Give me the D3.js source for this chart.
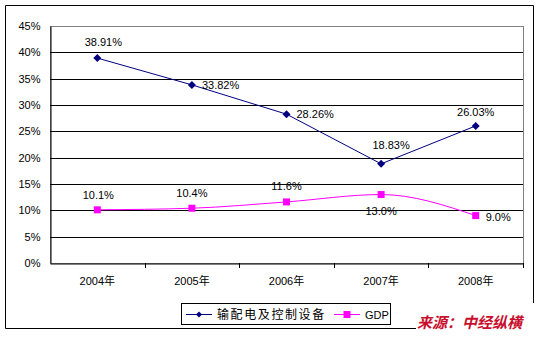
<!DOCTYPE html>
<html><head><meta charset="utf-8">
<script src="https://cdn.jsdelivr.net/npm/d3@7/dist/d3.min.js"></script>
<style>body{margin:0;background:#fff}svg{display:block}</style>
</head><body><svg id="c" width="541" height="337"></svg>
<script>
const categories = ["2004年","2005年","2006年","2007年","2008年"];
const equipValues = [38.91, 33.82, 28.26, 18.83, 26.03];
const equipLabels = ["38.91%","33.82%","28.26%","18.83%","26.03%"];
const gdpValues = [10.1, 10.4, 11.6, 13.0, 9.0];
const gdpLabels = ["10.1%","10.4%","11.6%","13.0%","9.0%"];
const yTicks = [0,5,10,15,20,25,30,35,40,45];
const seriesNames = ["输配电及控制设备","GDP"];
const sourceText = "来源：中经纵横";

const svg = d3.select("#c");
const font = "SimSun, 'Liberation Sans', 'Noto Sans CJK SC', sans-serif";
const L=50, R=523, T=26, B=263;
const x = d3.scaleBand().domain(categories).range([L,R]);
const y = d3.scaleLinear().domain([0,45]).range([B,T]);
const cx = d => x(d)+x.bandwidth()/2;

// outer frame
svg.append("path").attr("d","M533.5,303 V5.5 H5.5 V328.5 H416")
  .attr("fill","none").attr("stroke","#000").attr("stroke-width",1);

// plot border (gray top/right)
svg.append("rect").attr("x",L+0.5).attr("y",T+0.5).attr("width",R-L).attr("height",B-T)
  .attr("fill","none").attr("stroke","#808080");

// gridlines
svg.append("g").selectAll("line").data(yTicks.filter(t=>t>0 && t<45)).join("line")
  .attr("x1",L).attr("x2",R).attr("y1",d=>Math.round(y(d))+0.5).attr("y2",d=>Math.round(y(d))+0.5)
  .attr("stroke","#000");

// y axis
const ya = svg.append("g").attr("transform",`translate(${L+0.5},0)`)
  .call(d3.axisLeft(y).tickValues(yTicks).tickFormat(d=>d+"%").tickSize(0).tickPadding(10));
ya.select(".domain").attr("stroke","#000");
ya.selectAll("text").attr("font-family",font).attr("font-size",11).attr("fill","#000");

// x axis
const xa = svg.append("g").attr("transform",`translate(0,${B+0.5})`)
  .call(d3.axisBottom(x).tickSize(0).tickPadding(14));
xa.select(".domain").attr("stroke","#000");
xa.selectAll("text").attr("font-family",font).attr("font-size",11).attr("fill","#000");
// category separator ticks
svg.append("g").selectAll("line").data(categories).join("line")
  .attr("x1",d=>Math.round(x(d)+x.bandwidth())+0.5).attr("x2",d=>Math.round(x(d)+x.bandwidth())+0.5)
  .attr("y1",B).attr("y2",B+5).attr("stroke","#000");

const navy="#000080", mag="#FF00FF";

// equipment line
svg.append("path").datum(equipValues)
  .attr("d",d3.line().x((d,i)=>cx(categories[i])).y(d=>y(d)))
  .attr("fill","none").attr("stroke",navy).attr("stroke-width",1);
const sqDiamond = {draw(ctx,size){const r=Math.sqrt(size)/2;ctx.moveTo(0,-r);ctx.lineTo(r,0);ctx.lineTo(0,r);ctx.lineTo(-r,0);ctx.closePath();}};
const diamond = d3.symbol().type(sqDiamond).size(64);
svg.append("g").selectAll("path").data(equipValues).join("path")
  .attr("d",diamond).attr("transform",(d,i)=>`translate(${cx(categories[i])},${y(d)})`).attr("fill",navy);

// gdp line
svg.append("path").datum(gdpValues)
  .attr("d",d3.line().x((d,i)=>cx(categories[i])).y(d=>y(d)).curve(d3.curveMonotoneX))
  .attr("fill","none").attr("stroke",mag).attr("stroke-width",1);
svg.append("g").selectAll("rect").data(gdpValues).join("rect")
  .attr("x",(d,i)=>cx(categories[i])-3.5).attr("y",d=>y(d)-3.5).attr("width",7).attr("height",7).attr("fill",mag);

// data labels
const eOff = [[6,-12,"middle"],[10,4,"start"],[10,4,"start"],[10,-15,"middle"],[0,-10,"middle"]];
svg.append("g").selectAll("text").data(equipValues).join("text")
  .attr("x",(d,i)=>cx(categories[i])+eOff[i][0]).attr("y",(d,i)=>y(d)+eOff[i][1])
  .attr("text-anchor",(d,i)=>eOff[i][2]).attr("font-family",font).attr("font-size",11)
  .text((d,i)=>equipLabels[i]);
const gOff = [[1,-11,"middle"],[0,-11,"middle"],[0,-12,"middle"],[0,20,"middle"],[10,5,"start"]];
svg.append("g").selectAll("text").data(gdpValues).join("text")
  .attr("x",(d,i)=>cx(categories[i])+gOff[i][0]).attr("y",(d,i)=>y(d)+gOff[i][1])
  .attr("text-anchor",(d,i)=>gOff[i][2]).attr("font-family",font).attr("font-size",11)
  .text((d,i)=>gdpLabels[i]);

// legend
const lg = svg.append("g");
lg.append("rect").attr("x",181.5).attr("y",303.5).attr("width",209).attr("height",21)
  .attr("fill","#fff").attr("stroke","#000");
lg.append("line").attr("x1",186).attr("x2",212).attr("y1",314.5).attr("y2",314.5).attr("stroke",navy);
lg.append("path").attr("d",d3.symbol().type(sqDiamond).size(36)).attr("transform","translate(199,314.5)").attr("fill",navy);
lg.append("text").attr("x",217).attr("y",319).attr("font-family",font).attr("font-size",12)
  .attr("letter-spacing",1.6).text(seriesNames[0]);
lg.append("line").attr("x1",334).attr("x2",360).attr("y1",314.5).attr("y2",314.5).attr("stroke",mag);
lg.append("rect").attr("x",343.5).attr("y",311).attr("width",7).attr("height",7).attr("fill",mag);
lg.append("text").attr("x",365).attr("y",318.5).attr("font-family",font).attr("font-size",11).text(seriesNames[1]);

// source
svg.append("text").attr("x",417).attr("y",328).attr("font-family","'Noto Sans CJK SC', sans-serif")
  .attr("font-size",15).attr("font-weight","bold").attr("font-style","italic").attr("fill","#C8102E")
  .text(sourceText);
</script></body></html>
